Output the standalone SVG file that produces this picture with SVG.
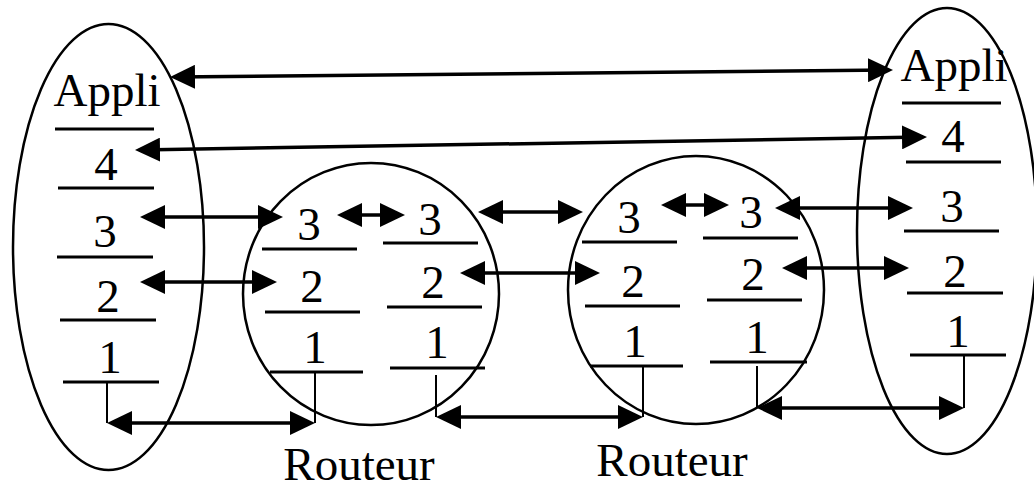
<svg xmlns="http://www.w3.org/2000/svg" width="1034" height="489" viewBox="0 0 1034 489">
<style>
text{font-family:"Liberation Serif","Times New Roman",serif;font-size:47px;fill:#000;text-anchor:middle}
.shape{fill:none;stroke:#000;stroke-width:2.5}
.sep{stroke:#000;stroke-width:3}
.tick{stroke:#000;stroke-width:2}
.arr{stroke:#000;stroke-width:3.5;fill:none;marker-start:url(#ah);marker-end:url(#ah)}
</style>
<defs>
<marker id="ah" viewBox="0 0 25 24" markerWidth="25" markerHeight="24" markerUnits="userSpaceOnUse" refX="21" refY="12" orient="auto-start-reverse">
<path d="M0,0 L25,12 L0,24 Z" fill="#000"/>
</marker>
</defs>
<rect width="1034" height="489" fill="#fff"/>

<g id="host-left">
<ellipse class="shape" cx="108.5" cy="247" rx="95.5" ry="223"/>
<text x="107" y="106">Appli</text>
<line class="sep" x1="55" y1="129" x2="154" y2="129"/>
<text x="106" y="180">4</text>
<line class="sep" x1="58" y1="188" x2="154" y2="188"/>
<text x="105" y="247">3</text>
<line class="sep" x1="57" y1="257" x2="153" y2="257"/>
<text x="108" y="312">2</text>
<line class="sep" x1="60" y1="320" x2="156" y2="320"/>
<text x="110" y="373">1</text>
<line class="sep" x1="63" y1="382" x2="159" y2="382"/>
</g>

<g id="router-1">
<ellipse class="shape" cx="371" cy="294" rx="128" ry="131"/>
<text x="309" y="240">3</text>
<line class="sep" x1="262" y1="249" x2="357" y2="249"/>
<text x="312" y="302">2</text>
<line class="sep" x1="265" y1="312" x2="360" y2="312"/>
<text x="315" y="363">1</text>
<line class="sep" x1="270" y1="372" x2="363" y2="372"/>
<text x="430" y="235">3</text>
<line class="sep" x1="383" y1="243" x2="478" y2="243"/>
<text x="433" y="298">2</text>
<line class="sep" x1="387" y1="307" x2="482" y2="307"/>
<text x="437" y="358">1</text>
<line class="sep" x1="390" y1="368" x2="485" y2="368"/>
<text x="359" y="480">Routeur</text>
</g>

<g id="router-2">
<ellipse class="shape" cx="696" cy="290" rx="128" ry="134"/>
<text x="629" y="233">3</text>
<line class="sep" x1="582" y1="242" x2="677" y2="242"/>
<text x="633" y="297">2</text>
<line class="sep" x1="585" y1="306" x2="680" y2="306"/>
<text x="635" y="357">1</text>
<line class="sep" x1="590" y1="366" x2="683" y2="366"/>
<text x="751" y="228">3</text>
<line class="sep" x1="703" y1="238" x2="798" y2="238"/>
<text x="753" y="290">2</text>
<line class="sep" x1="707" y1="300" x2="802" y2="300"/>
<text x="757" y="353">1</text>
<line class="sep" x1="710" y1="362" x2="807" y2="362"/>
<text x="672" y="476">Routeur</text>
</g>

<g id="host-right">
<ellipse class="shape" cx="947" cy="231" rx="90" ry="223"/>
<text x="954" y="81">Appli</text>
<line class="sep" x1="902" y1="103" x2="1001" y2="103"/>
<text x="953" y="152">4</text>
<line class="sep" x1="906" y1="162" x2="1001" y2="162"/>
<text x="952" y="222">3</text>
<line class="sep" x1="904" y1="231" x2="999" y2="231"/>
<text x="955" y="287">2</text>
<line class="sep" x1="907" y1="293" x2="1003" y2="293"/>
<text x="958" y="347">1</text>
<line class="sep" x1="910" y1="355" x2="1006" y2="355"/>
</g>

<g id="connectors">
<line class="tick" x1="107" y1="382" x2="107" y2="423"/>
<line class="tick" x1="315" y1="372" x2="315" y2="423"/>
<line class="tick" x1="436" y1="375" x2="436" y2="417"/>
<line class="tick" x1="643" y1="366" x2="643" y2="417"/>
<line class="tick" x1="757" y1="366" x2="757" y2="408"/>
<line class="tick" x1="964" y1="355" x2="964" y2="408"/>
<line class="arr" x1="174" y1="77" x2="889" y2="70"/>
<line class="arr" x1="139" y1="150" x2="923" y2="137"/>
<line class="arr" x1="144" y1="217" x2="279" y2="217"/>
<line class="arr" x1="144" y1="282" x2="273" y2="282"/>
<line class="arr" x1="341" y1="215" x2="401" y2="215"/>
<line class="arr" x1="482" y1="212" x2="579" y2="212"/>
<line class="arr" x1="464" y1="273" x2="596" y2="273"/>
<line class="arr" x1="665" y1="205" x2="725" y2="205"/>
<line class="arr" x1="779" y1="208" x2="909" y2="208"/>
<line class="arr" x1="786" y1="268" x2="905" y2="268"/>
<line class="arr" x1="111" y1="423" x2="311" y2="423"/>
<line class="arr" x1="440" y1="417" x2="639" y2="417"/>
<line class="arr" x1="761" y1="408" x2="960" y2="408"/>
</g>
</svg>
